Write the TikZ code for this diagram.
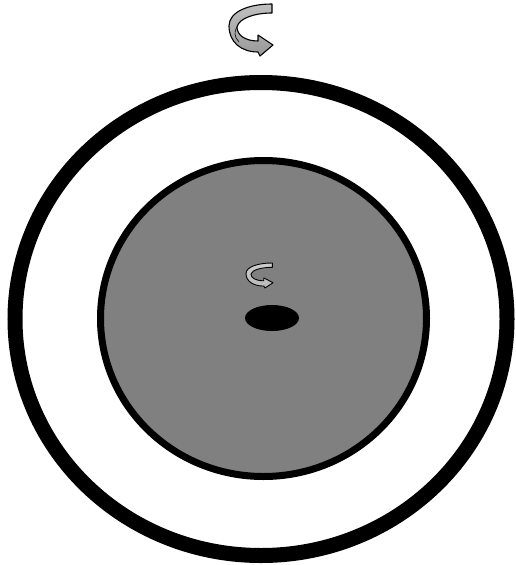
\documentclass[tikz,border=0pt]{standalone}
\begin{document}
\begin{tikzpicture}[x=1pt,y=-1pt,
  ringline/.style={draw=black,line width=15pt},
  discstyle/.style={draw=black,line width=7pt,fill=black!50},
  ribbon/.style={draw=black,line join=round}]
\useasboundingbox (0,0) rectangle (515,565);
% outer ring
\coordinate (ring) at (261,319);
\draw[ringline] (ring) ellipse [x radius=246, y radius=236.5];
% inner disc
\coordinate (disc) at (263.5,318.5);
\draw[discstyle] (disc) ellipse [x radius=163, y radius=158];
% central black ellipse
\coordinate (core) at (272,318);
\fill[black] (core) ellipse [x radius=27, y radius=13];
% arrow shape
\def\arrowpath{(43,0) .. controls (19,0) and (0,8) .. (0,22) .. controls (0,38) and (12,48) .. (29,48) -- (31,52) -- (44,41) -- (29,31) -- (29,37) .. controls (16,37) and (8,31) .. (8,23) .. controls (10,14) and (26,9) .. (43,9) -- cycle}
% top arrow
\begin{scope}[shift={(229,4)}]
  \shade[ribbon,top color=gray!50,bottom color=gray!80,line width=1.1pt] \arrowpath;
  \draw[line width=0.6pt] (8,23) .. controls (5,27) and (5,33) .. (10,38);
\end{scope}
% small arrow
\begin{scope}[shift={(246,263)},xscale=27/44,yscale=25/52]
  \shade[ribbon,top color=gray!40,bottom color=gray!55,line width=0.9pt] \arrowpath;
\end{scope}
\end{tikzpicture}
\end{document}
